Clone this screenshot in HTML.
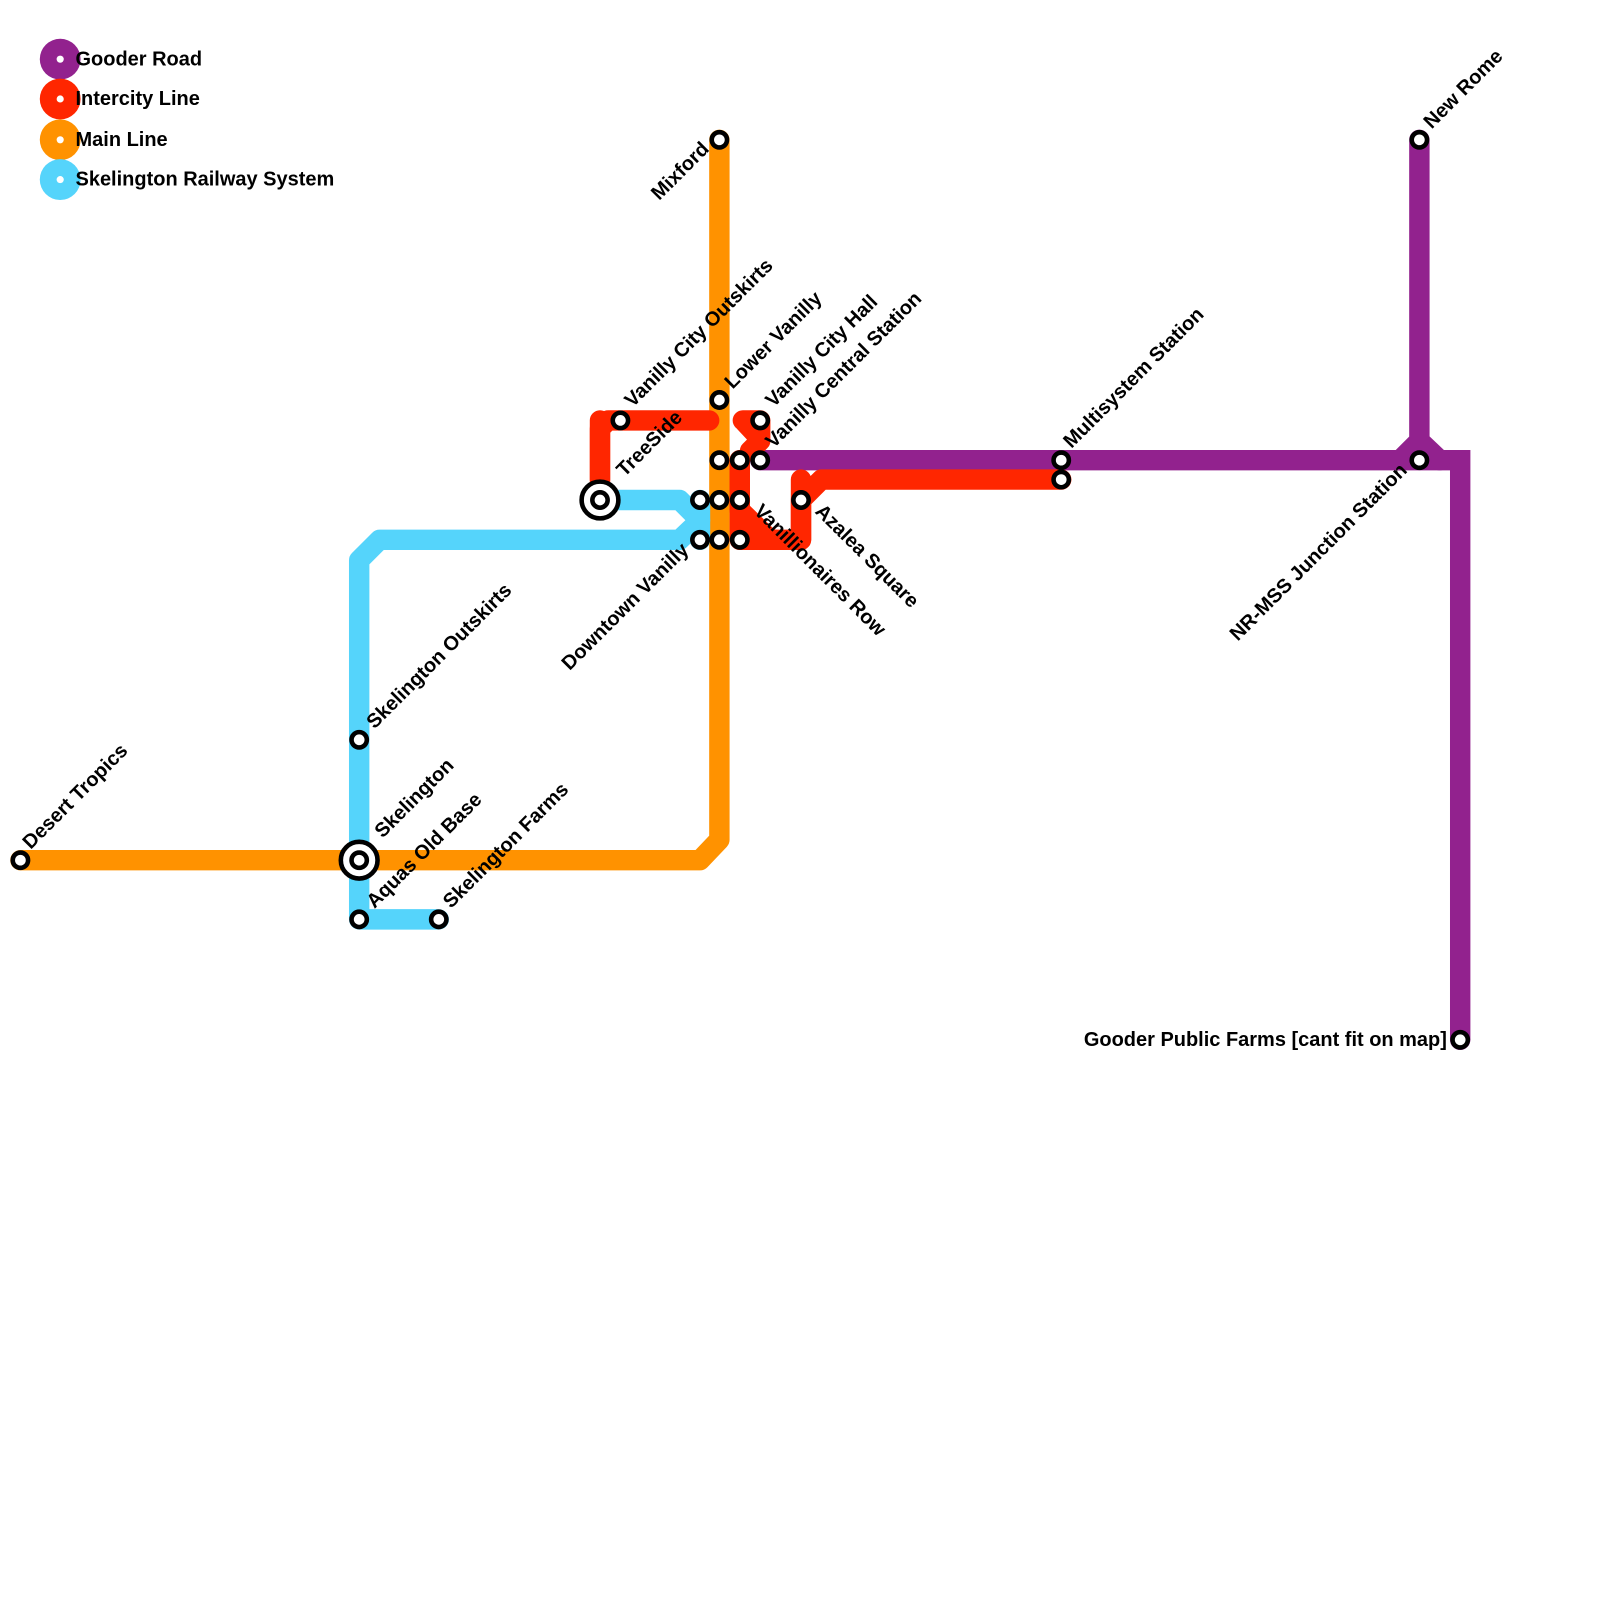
<!DOCTYPE html>
<html><head><meta charset="utf-8"><style>
html,body{margin:0;padding:0;background:#fff}
svg{display:block}
text{font-family:"Liberation Sans",Arial,sans-serif;font-weight:bold;font-size:19.6px;fill:#000}
</style></head><body>
<svg width="1600" height="1600" viewBox="0 0 1600 1600" xmlns="http://www.w3.org/2000/svg">
<g transform="scale(1.0204)">
<g fill="none" stroke-width="20" stroke-linejoin="round" stroke-linecap="round">
<path d="M745 451 H1431 V1019" stroke="#92228e" stroke-linejoin="miter"/>
<path d="M1391 137 V432 L1372 451 M1391 432 L1411 451" stroke="#92228e" stroke-linejoin="miter"/>
<path d="M705 137 V823 L686 843 H20" stroke="#ff9200"/>
<path d="M588 490 H666 L686 510 L666 529 H372 L352 549 V901 H430" stroke="#55d4fb"/>
<path d="M686 490 V529" stroke="#55d4fb"/>
<path d="M695 412 H596 L588 420 V470" stroke="#ff2600"/>
<path d="M588 412 V490" stroke="#ff2600"/>
<path d="M728 412 H745 V432 L735 442 M730 414 L745 430" stroke="#ff2600"/>
<path d="M725 451 V500 L755 529 H785 V490 L805 470 H1040" stroke="#ff2600"/>
<path d="M725 451 V529 H760" stroke="#ff2600"/>
<path d="M785 470 V529" stroke="#ff2600"/>
</g>
<g>
<circle cx="59" cy="58" r="20" fill="#92228e"/><circle cx="59" cy="58" r="3.5" fill="#fff"/>
<circle cx="59" cy="97" r="20" fill="#ff2600"/><circle cx="59" cy="97" r="3.5" fill="#fff"/>
<circle cx="59" cy="137" r="20" fill="#ff9200"/><circle cx="59" cy="137" r="3.5" fill="#fff"/>
<circle cx="59" cy="176" r="20" fill="#55d4fb"/><circle cx="59" cy="176" r="3.5" fill="#fff"/>
<text x="74" y="64">Gooder Road</text>
<text x="74" y="103">Intercity Line</text>
<text x="74" y="143">Main Line</text>
<text x="74" y="182">Skelington Railway System</text>
</g>
<g fill="#fff" stroke="#000" stroke-width="4.5">
<circle cx="705" cy="137" r="7.5"/>
<circle cx="705" cy="392" r="7.5"/>
<circle cx="608" cy="412" r="7.5"/>
<circle cx="745" cy="412" r="7.5"/>
<circle cx="705" cy="451" r="7.5"/><circle cx="725" cy="451" r="7.5"/><circle cx="745" cy="451" r="7.5"/>
<circle cx="686" cy="490" r="7.5"/><circle cx="705" cy="490" r="7.5"/><circle cx="725" cy="490" r="7.5"/>
<circle cx="686" cy="529" r="7.5"/><circle cx="705" cy="529" r="7.5"/><circle cx="725" cy="529" r="7.5"/>
<circle cx="785" cy="490" r="7.5"/>
<circle cx="1040" cy="451" r="7.5"/><circle cx="1040" cy="470" r="7.5"/>
<circle cx="1391" cy="137" r="7.5"/><circle cx="1391" cy="451" r="7.5"/>
<circle cx="1431" cy="1019" r="7.5"/>
<circle cx="352" cy="725" r="7.5"/>
<circle cx="20" cy="843" r="7.5"/>
<circle cx="352" cy="901" r="7.5"/><circle cx="430" cy="901" r="7.5"/>
<circle cx="588" cy="490" r="18"/><circle cx="588" cy="490" r="7.5"/>
<circle cx="352" cy="843" r="18"/><circle cx="352" cy="843" r="7.5"/>
</g>
<g>
<text transform="translate(30,833) rotate(-45)">Desert Tropics</text>
<text transform="translate(367,715) rotate(-45)">Skelington Outskirts</text>
<text transform="translate(375,822) rotate(-45)">Skelington</text>
<text transform="translate(367,891) rotate(-45)">Aquas Old Base</text>
<text transform="translate(442,891) rotate(-45)">Skelington Farms</text>
<text transform="translate(612,468) rotate(-45)">TreeSide</text>
<text transform="translate(620,400) rotate(-45)">Vanilly City Outskirts</text>
<text transform="translate(718,382) rotate(-45)">Lower Vanilly</text>
<text transform="translate(758,400) rotate(-45)">Vanilly City Hall</text>
<text transform="translate(758,440) rotate(-45)">Vanilly Central Station</text>
<text transform="translate(1050,440) rotate(-45)">Multisystem Station</text>
<text transform="translate(1403,127) rotate(-45)">New Rome</text>
<text text-anchor="end" transform="translate(696,147) rotate(-45)">Mixford</text>
<text text-anchor="end" transform="translate(676,540) rotate(-45)">Downtown Vanilly</text>
<text text-anchor="end" transform="translate(1380,462) rotate(-45)">NR-MSS Junction Station</text>
<text transform="translate(738,502) rotate(45)">Vanillionaires Row</text>
<text transform="translate(798,502) rotate(45)">Azalea Square</text>
<text x="1418" y="1025" text-anchor="end">Gooder Public Farms [cant fit on map]</text>
</g>
</g>
</svg>
</body></html>
